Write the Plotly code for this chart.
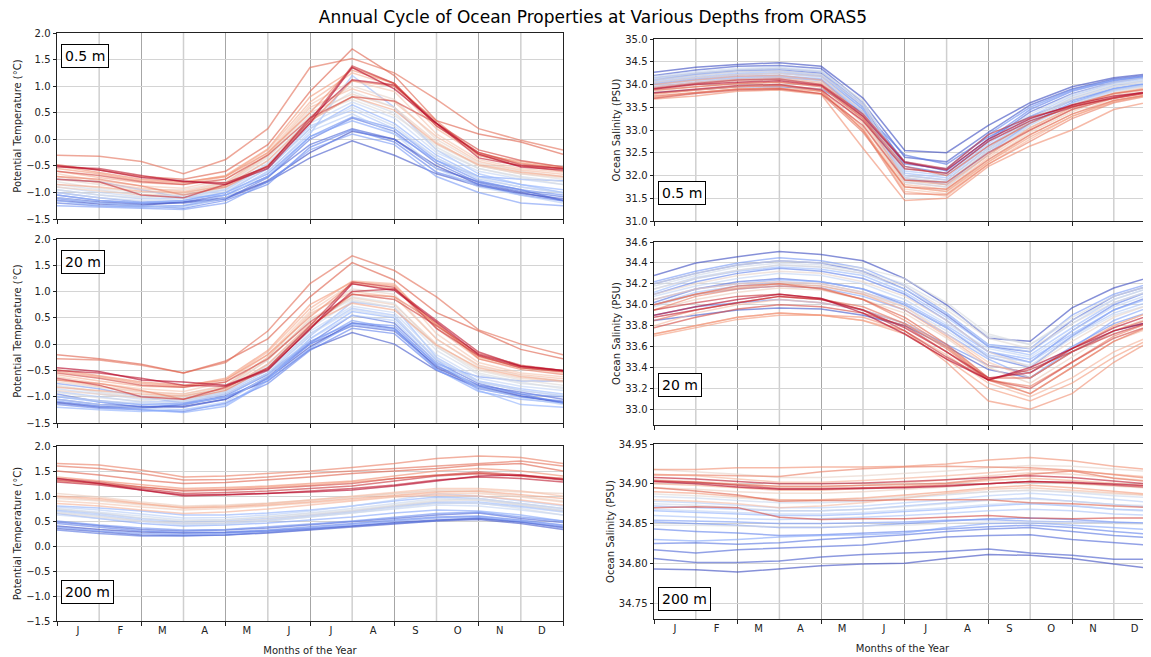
import plotly.graph_objects as go

# ---------------- data ----------------
months = ["J", "F", "M", "A", "M", "J", "J", "A", "S", "O", "N", "D"]
month_pos = [0.5, 1.5, 2.5, 3.5, 4.5, 5.5, 6.5, 7.5, 8.5, 9.5, 10.5, 11.5]
sample_x = [0, 1, 2, 3, 4, 5, 6, 7, 8, 9, 10, 11, 12]

# Potential temperature, 0.5 m (lines ordered oldest/blue -> newest/red)
temp_05m = [
    [-1.15, -1.22, -1.24, -1.18, -1.10, -0.78, -0.25, 0.15, 0.00, -0.50, -0.85, -1.00, -1.15],
    [-1.10, -1.18, -1.22, -1.20, -1.12, -0.80, -0.35, -0.03, -0.30, -0.65, -0.88, -1.02, -1.12],
    [-1.05, -1.15, -1.20, -1.18, -1.05, -0.70, -0.10, 0.20, 0.00, -0.55, -0.80, -0.95, -1.15],
    [-1.20, -1.25, -1.27, -1.25, -1.12, -0.72, 0.00, 0.40, 0.15, -0.45, -0.82, -0.98, -1.08],
    [-1.12, -1.20, -1.25, -1.30, -1.15, -0.85, -0.15, 0.18, -0.05, -0.62, -0.85, -1.05, -1.16],
    [-1.00, -1.10, -1.18, -1.15, -1.00, -0.65, 0.05, 0.42, 0.20, -0.40, -0.78, -0.95, -1.05],
    [-1.25, -1.28, -1.30, -1.32, -1.20, -0.80, -0.20, 0.10, -0.10, -0.70, -1.00, -1.20, -1.25],
    [-0.75, -0.80, -0.95, -1.10, -1.05, -0.70, 0.05, 0.35, 0.10, -0.40, -0.70, -0.75, -0.78],
    [-1.05, -1.15, -1.20, -1.15, -1.00, -0.55, 0.20, 0.65, 0.30, -0.30, -0.70, -0.85, -0.95],
    [-1.15, -1.25, -1.28, -1.25, -1.05, -0.60, 0.10, 1.20, 0.60, -0.20, -0.65, -0.85, -1.00],
    [-0.95, -1.05, -1.12, -1.10, -0.95, -0.50, 0.25, 0.55, 0.20, -0.35, -0.75, -0.90, -1.00],
    [-1.10, -1.20, -1.25, -1.28, -1.10, -0.62, 0.15, 0.48, 0.10, -0.55, -0.90, -1.05, -1.20],
    [-0.90, -1.00, -1.08, -1.05, -0.95, -0.45, 0.30, 0.70, 0.40, -0.25, -0.60, -0.75, -0.85],
    [-1.00, -1.10, -1.15, -1.12, -0.98, -0.55, 0.20, 0.60, 0.25, -0.35, -0.72, -0.90, -1.02],
    [-0.85, -0.95, -1.05, -1.10, -0.92, -0.48, 0.35, 0.80, 0.50, -0.20, -0.55, -0.70, -0.80],
    [-0.95, -1.05, -1.10, -1.05, -0.90, -0.40, 0.40, 0.90, 0.60, -0.15, -0.55, -0.72, -0.85],
    [-0.80, -0.92, -1.00, -1.00, -0.85, -0.35, 0.45, 0.75, 0.45, -0.10, -0.50, -0.65, -0.75],
    [-0.75, -0.85, -0.95, -0.95, -0.80, -0.30, 0.55, 1.00, 0.75, 0.00, -0.45, -0.60, -0.70],
    [-0.90, -0.98, -1.05, -1.02, -0.85, -0.32, 0.50, 0.85, 0.60, -0.05, -0.50, -0.65, -0.72],
    [-0.65, -0.78, -0.88, -0.92, -0.75, -0.25, 0.65, 1.10, 0.90, 0.10, -0.38, -0.55, -0.62],
    [-0.70, -0.82, -0.92, -0.98, -0.82, -0.28, 0.60, 0.95, 0.70, 0.05, -0.42, -0.58, -0.66],
    [-0.60, -0.72, -0.82, -0.85, -0.70, -0.20, 0.70, 1.25, 1.00, 0.20, -0.30, -0.45, -0.55],
    [-0.85, -0.90, -0.98, -1.00, -0.88, -0.40, 0.35, 0.80, 0.55, -0.08, -0.48, -0.62, -0.70],
    [-0.55, -0.65, -0.78, -0.82, -0.68, -0.18, 0.80, 1.30, 1.05, 0.25, -0.28, -0.42, -0.52],
    [-0.50, -0.62, -0.75, -0.80, -0.70, -0.25, 0.50, 1.35, 1.05, 0.30, -0.25, -0.45, -0.55],
    [-0.70, -0.75, -0.88, -1.05, -0.90, -0.50, 0.30, 1.10, 1.00, 0.35, -0.30, -0.50, -0.60],
    [-0.30, -0.32, -0.42, -0.65, -0.38, 0.20, 1.35, 1.52, 1.25, 0.75, 0.20, -0.02, -0.20],
    [-0.48, -0.58, -0.70, -0.75, -0.60, -0.10, 0.90, 1.70, 1.20, 0.35, 0.10, -0.05, -0.28],
    [-0.60, -0.68, -0.80, -0.85, -0.75, -0.30, 0.40, 0.80, 0.72, 0.30, -0.20, -0.40, -0.52],
    [-0.75, -0.80, -1.05, -1.10, -0.85, -0.50, 0.35, 1.38, 1.05, 0.25, -0.25, -0.48, -0.55],
    [-0.52, -0.55, -0.68, -0.80, -0.82, -0.52, 0.40, 1.12, 1.02, 0.30, -0.35, -0.50, -0.55],
    [-0.50, -0.58, -0.72, -0.78, -0.85, -0.55, 0.30, 1.35, 0.95, 0.30, -0.28, -0.52, -0.58],
]

# Potential temperature, 20 m
temp_20m = [
    [-1.10, -1.18, -1.20, -1.18, -1.05, -0.65, -0.05, 0.40, 0.30, -0.45, -0.80, -0.98, -1.12],
    [-1.12, -1.20, -1.22, -1.15, -1.00, -0.70, -0.10, 0.22, 0.00, -0.50, -0.82, -1.00, -1.10],
    [-1.05, -1.15, -1.18, -1.20, -1.05, -0.62, 0.00, 0.35, 0.25, -0.42, -0.78, -0.92, -1.05],
    [-0.95, -1.10, -1.20, -1.15, -0.98, -0.58, 0.02, 0.55, 0.40, -0.35, -0.75, -0.95, -1.12],
    [-1.15, -1.22, -1.25, -1.28, -1.12, -0.75, -0.12, 0.30, 0.20, -0.48, -0.85, -1.00, -1.08],
    [-1.00, -1.08, -1.15, -1.12, -0.95, -0.55, 0.05, 0.40, 0.35, -0.40, -0.80, -0.95, -1.00],
    [-0.75, -0.85, -1.00, -1.12, -1.02, -0.65, 0.00, 0.45, 0.30, -0.38, -0.62, -0.70, -0.70],
    [-1.08, -1.18, -1.25, -1.30, -1.18, -0.70, -0.08, 0.38, 0.28, -0.48, -0.90, -1.05, -1.12],
    [-1.20, -1.25, -1.28, -1.25, -1.15, -0.68, 0.10, 0.62, 0.50, -0.30, -0.88, -1.15, -1.20],
    [-1.00, -1.10, -1.15, -1.15, -1.00, -0.55, 0.15, 0.80, 0.70, -0.25, -0.70, -0.85, -0.95],
    [-0.90, -1.00, -1.10, -1.08, -0.92, -0.50, 0.20, 0.68, 0.55, -0.30, -0.72, -0.88, -0.98],
    [-1.05, -1.15, -1.22, -1.25, -1.10, -0.60, 0.10, 0.55, 0.45, -0.35, -0.82, -1.02, -1.15],
    [-0.85, -0.95, -1.05, -1.05, -0.90, -0.45, 0.25, 0.72, 0.60, -0.20, -0.65, -0.80, -0.88],
    [-0.98, -1.08, -1.12, -1.10, -0.95, -0.55, 0.18, 0.65, 0.52, -0.28, -0.72, -0.88, -0.98],
    [-0.80, -0.92, -1.02, -1.08, -0.90, -0.40, 0.30, 0.82, 0.70, -0.12, -0.58, -0.75, -0.82],
    [-0.92, -1.02, -1.08, -1.02, -0.88, -0.38, 0.35, 0.90, 0.78, -0.05, -0.55, -0.72, -0.85],
    [-0.78, -0.90, -0.98, -0.98, -0.82, -0.30, 0.45, 0.85, 0.70, -0.05, -0.50, -0.68, -0.78],
    [-0.72, -0.82, -0.92, -0.95, -0.78, -0.25, 0.55, 1.05, 0.95, 0.10, -0.42, -0.60, -0.70],
    [-0.88, -0.95, -1.02, -1.00, -0.85, -0.30, 0.48, 0.88, 0.75, 0.00, -0.48, -0.65, -0.72],
    [-0.62, -0.75, -0.85, -0.90, -0.72, -0.20, 0.62, 1.15, 1.10, 0.20, -0.35, -0.55, -0.62],
    [-0.68, -0.80, -0.90, -0.95, -0.80, -0.25, 0.58, 1.00, 0.90, 0.10, -0.40, -0.58, -0.66],
    [-0.58, -0.70, -0.80, -0.82, -0.68, -0.15, 0.68, 1.20, 1.15, 0.30, -0.28, -0.45, -0.55],
    [-0.82, -0.88, -0.95, -0.98, -0.85, -0.38, 0.38, 0.78, 0.65, -0.02, -0.45, -0.62, -0.70],
    [-0.52, -0.62, -0.75, -0.80, -0.65, -0.12, 0.75, 1.18, 1.12, 0.35, -0.25, -0.42, -0.52],
    [-0.48, -0.60, -0.72, -0.78, -0.68, -0.20, 0.52, 1.15, 1.05, 0.38, -0.22, -0.45, -0.52],
    [-0.68, -0.75, -0.88, -1.05, -0.88, -0.45, 0.32, 0.95, 0.90, 0.40, -0.28, -0.48, -0.58],
    [-0.28, -0.30, -0.40, -0.55, -0.35, 0.25, 1.15, 1.68, 1.40, 0.90, 0.27, 0.00, -0.20],
    [-0.20, -0.28, -0.38, -0.55, -0.32, 0.10, 0.90, 1.55, 1.22, 0.60, 0.25, -0.10, -0.28],
    [-0.55, -0.65, -0.78, -0.82, -0.72, -0.28, 0.42, 0.95, 0.85, 0.35, -0.18, -0.40, -0.50],
    [-0.65, -0.78, -1.00, -1.05, -0.82, -0.45, 0.35, 1.18, 1.08, 0.30, -0.22, -0.45, -0.52],
    [-0.50, -0.55, -0.65, -0.78, -0.80, -0.50, 0.30, 1.00, 1.05, 0.45, -0.15, -0.42, -0.50],
    [-0.45, -0.52, -0.68, -0.72, -0.78, -0.48, 0.28, 1.15, 1.02, 0.42, -0.20, -0.42, -0.50],
]

# Potential temperature, 200 m
temp_200m = [
    [0.40, 0.33, 0.28, 0.26, 0.27, 0.30, 0.35, 0.40, 0.47, 0.52, 0.55, 0.48, 0.38],
    [0.35, 0.28, 0.22, 0.21, 0.22, 0.26, 0.32, 0.38, 0.44, 0.50, 0.53, 0.45, 0.33],
    [0.48, 0.40, 0.33, 0.30, 0.32, 0.36, 0.42, 0.48, 0.55, 0.62, 0.66, 0.55, 0.47],
    [0.32, 0.25, 0.20, 0.20, 0.22, 0.27, 0.33, 0.40, 0.46, 0.51, 0.56, 0.48, 0.36],
    [0.45, 0.38, 0.30, 0.27, 0.28, 0.32, 0.38, 0.45, 0.52, 0.58, 0.60, 0.52, 0.42],
    [0.50, 0.42, 0.36, 0.32, 0.33, 0.38, 0.44, 0.50, 0.58, 0.65, 0.68, 0.58, 0.50],
    [0.38, 0.30, 0.25, 0.23, 0.25, 0.30, 0.36, 0.43, 0.50, 0.56, 0.58, 0.50, 0.40],
    [0.65, 0.55, 0.45, 0.40, 0.42, 0.46, 0.52, 0.58, 0.66, 0.72, 0.70, 0.62, 0.50],
    [0.80, 0.76, 0.70, 0.62, 0.62, 0.66, 0.72, 0.80, 0.90, 0.98, 0.95, 0.85, 0.75],
    [0.72, 0.65, 0.55, 0.48, 0.50, 0.55, 0.62, 0.70, 0.80, 0.88, 0.88, 0.80, 0.70],
    [0.70, 0.62, 0.52, 0.45, 0.46, 0.52, 0.60, 0.68, 0.78, 0.86, 0.85, 0.78, 0.68],
    [0.78, 0.72, 0.64, 0.56, 0.57, 0.62, 0.70, 0.80, 0.92, 1.05, 1.00, 0.90, 0.80],
    [0.62, 0.55, 0.48, 0.42, 0.44, 0.50, 0.58, 0.66, 0.75, 0.82, 0.80, 0.72, 0.62],
    [0.75, 0.68, 0.60, 0.52, 0.53, 0.58, 0.66, 0.75, 0.85, 0.95, 0.92, 0.83, 0.72],
    [0.68, 0.60, 0.50, 0.44, 0.45, 0.50, 0.58, 0.66, 0.76, 0.85, 0.86, 0.75, 0.62],
    [0.74, 0.66, 0.56, 0.50, 0.52, 0.58, 0.65, 0.72, 0.82, 0.92, 0.95, 0.85, 0.75],
    [0.66, 0.58, 0.50, 0.46, 0.48, 0.54, 0.62, 0.70, 0.80, 0.90, 0.92, 0.82, 0.70],
    [0.95, 0.90, 0.82, 0.76, 0.78, 0.84, 0.90, 0.97, 1.05, 1.10, 1.08, 1.00, 0.90],
    [1.05, 0.98, 0.88, 0.80, 0.82, 0.86, 0.92, 0.98, 1.05, 1.12, 1.12, 1.08, 1.05],
    [0.90, 0.85, 0.78, 0.72, 0.75, 0.80, 0.86, 0.92, 1.00, 1.05, 1.05, 0.98, 0.88],
    [0.98, 0.92, 0.84, 0.78, 0.80, 0.85, 0.92, 1.00, 1.08, 1.15, 1.15, 1.10, 1.00],
    [0.85, 0.80, 0.72, 0.65, 0.68, 0.74, 0.82, 0.90, 0.98, 1.02, 1.00, 0.92, 0.82],
    [1.00, 0.95, 0.85, 0.76, 0.78, 0.82, 0.88, 0.95, 1.02, 1.08, 1.10, 1.02, 0.95],
    [1.30, 1.25, 1.18, 1.12, 1.14, 1.18, 1.22, 1.28, 1.35, 1.42, 1.45, 1.40, 1.35],
    [1.38, 1.30, 1.22, 1.15, 1.17, 1.20, 1.25, 1.30, 1.40, 1.50, 1.55, 1.50, 1.40],
    [1.65, 1.62, 1.52, 1.38, 1.40, 1.45, 1.50, 1.57, 1.65, 1.75, 1.80, 1.77, 1.65],
    [1.60, 1.55, 1.45, 1.32, 1.33, 1.38, 1.45, 1.50, 1.55, 1.60, 1.65, 1.70, 1.60],
    [1.50, 1.42, 1.32, 1.25, 1.27, 1.32, 1.38, 1.45, 1.50, 1.55, 1.62, 1.65, 1.50],
    [1.35, 1.28, 1.18, 1.10, 1.12, 1.15, 1.20, 1.25, 1.35, 1.42, 1.48, 1.42, 1.35],
    [1.32, 1.25, 1.15, 1.05, 1.07, 1.10, 1.15, 1.20, 1.30, 1.40, 1.45, 1.40, 1.32],
    [1.28, 1.22, 1.12, 1.00, 1.02, 1.05, 1.10, 1.15, 1.22, 1.32, 1.38, 1.35, 1.28],
    [1.35, 1.25, 1.12, 1.02, 1.03, 1.05, 1.08, 1.12, 1.20, 1.30, 1.40, 1.42, 1.33],
]

# Ocean salinity, 0.5 m
sal_05m = [
    [34.27, 34.38, 34.44, 34.48, 34.40, 33.70, 32.55, 32.50, 33.10, 33.60, 33.95, 34.15, 34.25],
    [34.20, 34.32, 34.40, 34.42, 34.35, 33.60, 32.40, 32.30, 32.95, 33.55, 33.90, 34.12, 34.22],
    [34.10, 34.22, 34.30, 34.32, 34.25, 33.50, 32.20, 32.05, 32.75, 33.40, 33.80, 34.05, 34.18],
    [33.82, 33.88, 33.95, 33.95, 33.90, 33.40, 32.45, 32.25, 32.85, 33.30, 33.65, 33.90, 34.05],
    [34.05, 34.15, 34.22, 34.25, 34.18, 33.45, 32.30, 32.10, 32.80, 33.45, 33.85, 34.08, 34.20],
    [34.15, 34.25, 34.32, 34.35, 34.28, 33.55, 32.25, 32.15, 32.90, 33.50, 33.88, 34.10, 34.20],
    [33.95, 34.05, 34.12, 34.15, 34.10, 33.35, 32.00, 31.90, 32.60, 33.20, 33.65, 33.92, 34.05],
    [34.02, 34.12, 34.18, 34.20, 34.12, 33.40, 31.95, 31.80, 32.55, 33.15, 33.60, 33.88, 34.02],
    [34.00, 34.10, 34.15, 34.18, 34.10, 33.30, 31.90, 31.85, 32.50, 33.15, 33.60, 33.90, 34.05],
    [34.08, 34.18, 34.25, 34.28, 34.20, 33.45, 32.05, 31.95, 32.65, 33.25, 33.70, 33.98, 34.12],
    [34.12, 34.22, 34.28, 34.30, 34.22, 33.50, 32.10, 32.00, 32.70, 33.30, 33.75, 34.02, 34.15],
    [33.98, 34.08, 34.15, 34.18, 34.08, 33.30, 31.85, 31.75, 32.45, 33.10, 33.55, 33.85, 34.00],
    [34.05, 34.15, 34.22, 34.25, 34.15, 33.38, 31.95, 31.85, 32.55, 33.20, 33.65, 33.95, 34.08],
    [34.18, 34.28, 34.35, 34.38, 34.30, 33.60, 32.15, 32.05, 32.75, 33.35, 33.78, 34.05, 34.18],
    [33.92, 34.02, 34.10, 34.12, 34.05, 33.28, 31.88, 31.80, 32.48, 33.12, 33.58, 33.88, 34.02],
    [34.15, 34.25, 34.32, 34.35, 34.28, 33.65, 32.00, 31.90, 32.60, 33.25, 33.72, 34.00, 34.12],
    [34.10, 34.20, 34.28, 34.30, 34.22, 33.55, 31.95, 31.85, 32.55, 33.20, 33.68, 33.95, 34.10],
    [34.05, 34.15, 34.22, 34.25, 34.18, 33.40, 31.85, 31.75, 32.45, 33.05, 33.50, 33.82, 33.98],
    [33.90, 34.00, 34.08, 34.10, 34.02, 33.20, 31.75, 31.65, 32.35, 32.95, 33.40, 33.75, 33.92],
    [33.85, 33.95, 34.02, 34.05, 33.98, 33.15, 31.70, 31.60, 32.30, 32.90, 33.35, 33.70, 33.88],
    [33.95, 34.05, 34.12, 34.15, 34.05, 33.25, 31.80, 31.70, 32.40, 33.00, 33.45, 33.78, 33.95],
    [33.78, 33.88, 33.95, 33.98, 33.90, 33.05, 31.65, 31.55, 32.25, 32.80, 33.30, 33.65, 33.82],
    [34.00, 34.10, 34.18, 34.20, 34.10, 33.30, 31.90, 31.80, 32.45, 33.05, 33.50, 33.80, 33.95],
    [33.72, 33.82, 33.90, 33.92, 33.85, 33.00, 31.75, 31.65, 32.30, 32.85, 33.30, 33.62, 33.80],
    [33.68, 33.75, 33.85, 33.88, 33.78, 32.60, 31.45, 31.50, 32.20, 32.65, 33.00, 33.45, 33.65],
    [33.80, 33.88, 33.95, 33.98, 33.85, 33.00, 31.60, 31.58, 32.25, 32.75, 33.25, 33.60, 33.78],
    [33.75, 33.82, 33.90, 33.92, 33.80, 32.95, 31.75, 31.70, 32.35, 32.90, 33.35, 33.65, 33.80],
    [33.88, 33.95, 34.02, 34.05, 33.95, 33.25, 32.20, 32.00, 32.65, 33.15, 33.55, 33.80, 33.92],
    [33.70, 33.80, 33.88, 33.90, 33.80, 33.10, 31.90, 31.85, 32.50, 33.00, 33.45, 33.70, 33.85],
    [33.92, 34.02, 34.10, 34.12, 34.00, 33.35, 32.30, 32.15, 32.90, 33.28, 33.52, 33.70, 33.85],
    [33.82, 33.90, 33.98, 34.00, 33.88, 33.20, 32.15, 32.05, 32.75, 33.20, 33.50, 33.72, 33.88],
    [33.90, 34.00, 34.05, 34.08, 33.98, 33.30, 32.28, 32.12, 32.80, 33.25, 33.55, 33.75, 33.85],
]

# Ocean salinity, 20 m
sal_20m = [
    [34.28, 34.40, 34.46, 34.51, 34.48, 34.42, 34.25, 34.00, 33.68, 33.65, 33.97, 34.16, 34.28],
    [33.85, 33.90, 33.95, 33.97, 33.96, 33.90, 33.80, 33.60, 33.38, 33.30, 33.55, 33.75, 33.85],
    [34.20, 34.30, 34.38, 34.42, 34.40, 34.32, 34.15, 33.90, 33.60, 33.55, 33.85, 34.08, 34.20],
    [34.02, 34.15, 34.22, 34.25, 34.22, 34.15, 34.00, 33.78, 33.50, 33.40, 33.70, 33.95, 34.10],
    [34.10, 34.22, 34.30, 34.35, 34.32, 34.25, 34.10, 33.85, 33.55, 33.45, 33.75, 34.00, 34.15],
    [33.90, 33.98, 34.02, 34.05, 34.02, 33.95, 33.82, 33.62, 33.42, 33.35, 33.60, 33.82, 33.95],
    [34.22, 34.32, 34.40, 34.45, 34.42, 34.35, 34.18, 33.92, 33.62, 33.58, 33.90, 34.10, 34.22],
    [34.00, 34.10, 34.15, 34.18, 34.16, 34.08, 33.95, 33.72, 33.48, 33.30, 33.58, 33.85, 34.00],
    [34.05, 34.15, 34.20, 34.24, 34.22, 34.15, 34.02, 33.80, 33.55, 33.48, 33.72, 33.95, 34.08],
    [34.12, 34.25, 34.32, 34.36, 34.34, 34.28, 34.12, 33.88, 33.60, 33.52, 33.78, 34.02, 34.15],
    [34.00, 34.12, 34.18, 34.22, 34.20, 34.12, 34.00, 33.78, 33.52, 33.45, 33.70, 33.92, 34.05],
    [34.15, 34.26, 34.33, 34.38, 34.36, 34.30, 34.15, 33.92, 33.62, 33.55, 33.82, 34.05, 34.18],
    [34.08, 34.18, 34.25, 34.30, 34.28, 34.20, 34.05, 33.82, 33.58, 33.50, 33.75, 33.98, 34.12],
    [33.98, 34.10, 34.16, 34.20, 34.18, 34.10, 33.98, 33.75, 33.50, 33.42, 33.68, 33.90, 34.02],
    [34.18, 34.28, 34.36, 34.40, 34.38, 34.32, 34.20, 33.98, 33.70, 33.62, 33.85, 34.05, 34.18],
    [34.20, 34.30, 34.38, 34.42, 34.40, 34.35, 34.25, 34.02, 33.72, 33.62, 33.88, 34.08, 34.20],
    [34.15, 34.25, 34.33, 34.38, 34.36, 34.30, 34.18, 33.95, 33.68, 33.58, 33.82, 34.02, 34.15],
    [34.10, 34.20, 34.28, 34.32, 34.30, 34.22, 34.08, 33.85, 33.55, 33.40, 33.65, 33.88, 34.02],
    [33.95, 34.05, 34.12, 34.16, 34.14, 34.05, 33.92, 33.68, 33.40, 33.25, 33.50, 33.75, 33.90],
    [34.05, 34.15, 34.20, 34.22, 34.20, 34.12, 33.98, 33.72, 33.45, 33.30, 33.55, 33.80, 33.95],
    [33.80, 33.92, 34.00, 34.05, 34.02, 33.95, 33.82, 33.60, 33.30, 33.15, 33.40, 33.65, 33.80],
    [33.72, 33.80, 33.88, 33.92, 33.90, 33.85, 33.75, 33.52, 33.25, 33.12, 33.30, 33.55, 33.72],
    [34.00, 34.10, 34.16, 34.20, 34.18, 34.10, 33.95, 33.70, 33.42, 33.35, 33.58, 33.80, 33.95],
    [33.70, 33.78, 33.86, 33.90, 33.90, 33.85, 33.72, 33.48, 33.20, 33.08, 33.25, 33.50, 33.70],
    [33.72, 33.80, 33.88, 33.92, 33.90, 33.88, 33.75, 33.45, 33.08, 33.00, 33.15, 33.45, 33.68],
    [33.95, 34.08, 34.15, 34.18, 34.16, 34.05, 33.85, 33.60, 33.28, 33.22, 33.45, 33.70, 33.85],
    [33.85, 33.95, 34.02, 34.08, 34.05, 33.98, 33.82, 33.58, 33.28, 33.15, 33.40, 33.65, 33.82],
    [34.00, 34.10, 34.18, 34.20, 34.15, 34.05, 33.88, 33.62, 33.30, 33.30, 33.55, 33.75, 33.88],
    [33.78, 33.88, 33.96, 34.00, 33.98, 33.92, 33.80, 33.55, 33.28, 33.20, 33.45, 33.68, 33.82],
    [33.95, 34.02, 34.08, 34.10, 34.06, 33.95, 33.75, 33.50, 33.28, 33.38, 33.55, 33.72, 33.85],
    [33.88, 33.95, 34.02, 34.08, 34.05, 33.95, 33.78, 33.55, 33.30, 33.35, 33.58, 33.78, 33.92],
    [33.90, 33.98, 34.05, 34.10, 34.06, 33.92, 33.72, 33.48, 33.28, 33.40, 33.58, 33.75, 33.85],
]

# Ocean salinity, 200 m
sal_200m = [
    [34.793, 34.792, 34.789, 34.793, 34.797, 34.799, 34.800, 34.806, 34.811, 34.810, 34.806, 34.799, 34.793],
    [34.806, 34.801, 34.801, 34.803, 34.808, 34.811, 34.813, 34.815, 34.818, 34.813, 34.810, 34.805, 34.805],
    [34.817, 34.813, 34.817, 34.819, 34.821, 34.823, 34.828, 34.833, 34.835, 34.836, 34.830, 34.826, 34.822],
    [34.825, 34.826, 34.824, 34.826, 34.830, 34.833, 34.836, 34.840, 34.843, 34.845, 34.840, 34.835, 34.832],
    [34.843, 34.840, 34.838, 34.835, 34.836, 34.838, 34.840, 34.843, 34.846, 34.848, 34.845, 34.840, 34.836],
    [34.852, 34.850, 34.848, 34.845, 34.845, 34.847, 34.850, 34.853, 34.856, 34.857, 34.855, 34.852, 34.850],
    [34.854, 34.853, 34.852, 34.850, 34.850, 34.851, 34.852, 34.854, 34.855, 34.853, 34.852, 34.851, 34.850],
    [34.830, 34.828, 34.830, 34.833, 34.835, 34.836, 34.838, 34.845, 34.850, 34.851, 34.848, 34.845, 34.842],
    [34.866, 34.864, 34.862, 34.860, 34.860, 34.862, 34.865, 34.868, 34.872, 34.875, 34.872, 34.868, 34.866],
    [34.872, 34.870, 34.868, 34.866, 34.866, 34.868, 34.872, 34.876, 34.880, 34.882, 34.878, 34.874, 34.870],
    [34.860, 34.858, 34.856, 34.855, 34.856, 34.858, 34.860, 34.863, 34.866, 34.868, 34.866, 34.862, 34.860],
    [34.878, 34.876, 34.873, 34.870, 34.870, 34.872, 34.876, 34.880, 34.885, 34.888, 34.885, 34.880, 34.876],
    [34.868, 34.866, 34.864, 34.862, 34.862, 34.864, 34.867, 34.870, 34.874, 34.876, 34.873, 34.868, 34.865],
    [34.884, 34.882, 34.879, 34.876, 34.876, 34.878, 34.882, 34.886, 34.890, 34.892, 34.889, 34.885, 34.882],
    [34.875, 34.873, 34.870, 34.866, 34.866, 34.868, 34.871, 34.875, 34.879, 34.881, 34.878, 34.874, 34.872],
    [34.848, 34.848, 34.847, 34.846, 34.846, 34.847, 34.848, 34.850, 34.852, 34.852, 34.851, 34.850, 34.849],
    [34.887, 34.885, 34.882, 34.879, 34.879, 34.881, 34.884, 34.887, 34.890, 34.892, 34.890, 34.887, 34.885],
    [34.918, 34.915, 34.912, 34.908, 34.908, 34.910, 34.913, 34.916, 34.920, 34.923, 34.922, 34.918, 34.915],
    [34.895, 34.893, 34.890, 34.888, 34.888, 34.890, 34.893, 34.896, 34.900, 34.903, 34.900, 34.897, 34.894],
    [34.905, 34.903, 34.900, 34.896, 34.896, 34.898, 34.901, 34.905, 34.910, 34.914, 34.912, 34.907, 34.903],
    [34.880, 34.878, 34.875, 34.870, 34.872, 34.876, 34.882, 34.888, 34.893, 34.895, 34.892, 34.888, 34.885],
    [34.912, 34.910, 34.906, 34.902, 34.902, 34.904, 34.907, 34.910, 34.914, 34.918, 34.916, 34.912, 34.908],
    [34.900, 34.898, 34.895, 34.892, 34.892, 34.894, 34.897, 34.900, 34.904, 34.907, 34.904, 34.900, 34.897],
    [34.890, 34.888, 34.884, 34.880, 34.880, 34.882, 34.886, 34.890, 34.895, 34.898, 34.895, 34.890, 34.886],
    [34.918, 34.918, 34.920, 34.920, 34.921, 34.921, 34.922, 34.925, 34.930, 34.933, 34.929, 34.922, 34.917],
    [34.911, 34.911, 34.910, 34.909, 34.915, 34.919, 34.921, 34.922, 34.921, 34.920, 34.917, 34.911, 34.906],
    [34.903, 34.902, 34.899, 34.897, 34.897, 34.898, 34.899, 34.901, 34.906, 34.912, 34.916, 34.907, 34.902],
    [34.895, 34.891, 34.886, 34.878, 34.879, 34.879, 34.880, 34.880, 34.880, 34.876, 34.875, 34.872, 34.870],
    [34.870, 34.871, 34.870, 34.858, 34.855, 34.856, 34.856, 34.858, 34.860, 34.857, 34.856, 34.857, 34.857],
    [34.904, 34.902, 34.898, 34.894, 34.894, 34.895, 34.896, 34.898, 34.900, 34.903, 34.901, 34.898, 34.895],
    [34.908, 34.906, 34.903, 34.900, 34.900, 34.901, 34.903, 34.905, 34.908, 34.910, 34.908, 34.903, 34.899],
    [34.903, 34.900, 34.896, 34.893, 34.893, 34.894, 34.895, 34.897, 34.900, 34.903, 34.902, 34.900, 34.897],
]

depth_labels = ["0.5 m", "20 m", "200 m"]
temp_title = "Potential Temperature (°C)"
sal_title = "Ocean Salinity (PSU)"
x_title = "Months of the Year"
main_title = "Annual Cycle of Ocean Properties at Various Depths from ORAS5"

# ---------------- styling helpers ----------------
# The page body has an 8px default margin, so the figure is sized to the
# visible area and reference pixel positions are shifted by that offset.
OFF = 8
W, H = 1151 - OFF, 657 - OFF
CW = [(0.0, (59, 76, 192)), (0.125, (98, 130, 234)), (0.25, (141, 176, 254)),
      (0.375, (190, 211, 246)), (0.5, (221, 221, 221)), (0.625, (245, 196, 172)),
      (0.75, (244, 154, 123)), (0.875, (221, 96, 77)), (1.0, (180, 4, 38))]


def coolwarm(t, alpha=0.62):
    for (t0, c0), (t1, c1) in zip(CW[:-1], CW[1:]):
        if t <= t1:
            f = (t - t0) / (t1 - t0)
            c = [round(a + (b - a) * f) for a, b in zip(c0, c1)]
            return f"rgba({c[0]},{c[1]},{c[2]},{alpha})"
    return f"rgba(180,4,38,{alpha})"


def px_dom_x(a, b):
    return [(a - OFF) / W, min((b - OFF) / W, 1.0)]


def px_dom_y(top, bottom):
    return [1 - (bottom - OFF) / H, 1 - (top - OFF) / H]


FONT = "DejaVu Sans, Verdana, sans-serif"
AX = "#222222"

# panel geometry (reference pixels): left/right x, top/bottom y
LEFT_X = (57, 563)
RIGHT_X = (654, 1151)
RIGHT_RANGE_END = 12 * (1151 - 654) / (1155.6 - 654)

panels = [
    dict(data=temp_05m, col=0, y=(33, 219), yr=[-1.5, 2.0], dt=0.5, fmt=".1f", yt=temp_title,
         depth=depth_labels[0], box=0.874),
    dict(data=sal_05m, col=1, y=(39, 221), yr=[31.0, 35.0], dt=0.5, fmt=".1f", yt=sal_title,
         depth=depth_labels[0], box=0.152),
    dict(data=temp_20m, col=0, y=(239, 423), yr=[-1.5, 2.0], dt=0.5, fmt=".1f", yt=temp_title,
         depth=depth_labels[1], box=0.877),
    dict(data=sal_20m, col=1, y=(242, 425), yr=[32.85, 34.6], dt=0.2, fmt=".1f", yt=sal_title,
         depth=depth_labels[1], box=0.221, t0=33.0),
    dict(data=temp_200m, col=0, y=(446, 621), yr=[-1.5, 2.0], dt=0.5, fmt=".1f", yt=temp_title,
         depth=depth_labels[2], box=0.166),
    dict(data=sal_200m, col=1, y=(444, 619), yr=[34.73, 34.95], dt=0.05, fmt=".2f", yt=sal_title,
         depth=depth_labels[2], box=0.114, t0=34.75),
]

fig = go.Figure()
layout = {}
shapes = []
annotations = []

for i, p in enumerate(panels):
    n = i + 1
    xa = "x" if n == 1 else f"x{n}"
    ya = "y" if n == 1 else f"y{n}"
    xkey = "xaxis" if n == 1 else f"xaxis{n}"
    ykey = "yaxis" if n == 1 else f"yaxis{n}"
    bottom_row = i >= 4
    xdom = px_dom_x(*(LEFT_X if p["col"] == 0 else RIGHT_X))
    xr = [0, 12] if p["col"] == 0 else [0, RIGHT_RANGE_END]

    lines = p["data"]
    nl = len(lines)
    for k, vals in enumerate(lines):
        fig.add_trace(go.Scatter(
            x=sample_x, y=vals, mode="lines", xaxis=xa, yaxis=ya,
            line=dict(color=coolwarm(k / (nl - 1)), width=1.5),
            showlegend=False, hoverinfo="skip"))

    layout[xkey] = dict(
        domain=xdom, range=xr, anchor=ya, automargin=False,
        tickmode="array", tickvals=month_pos,
        ticktext=months if bottom_row else [""] * 12,
        ticks="", showgrid=False, zeroline=False,
        showline=True, linecolor=AX, linewidth=1, mirror=True,
        tickfont=dict(family=FONT, size=10, color=AX),
        minor=dict(tickmode="array", tickvals=[0, 2, 4, 6, 8, 10, 12], ticks="outside",
                   ticklen=4, tickwidth=1, tickcolor=AX, showgrid=True,
                   gridcolor="#a6a6a6", gridwidth=1),
        title=dict(text=x_title if bottom_row else "", standoff=11,
                   font=dict(family=FONT, size=10, color=AX)),
    )
    layout[ykey] = dict(
        domain=px_dom_y(*p["y"]), range=p["yr"], anchor=xa, automargin=False,
        tick0=p.get("t0", p["yr"][0]), dtick=p["dt"], tickformat=p["fmt"],
        ticks="outside", ticklen=3.5, tickwidth=1, tickcolor=AX,
        showgrid=True, gridcolor="#d4d4d4", gridwidth=1.2, zeroline=False,
        showline=True, linecolor=AX, linewidth=1, mirror=True,
        tickfont=dict(family=FONT, size=10, color=AX),
        title=dict(text=p["yt"], standoff=2, font=dict(family=FONT, size=10, color=AX)),
    )
    for g in [1, 3, 5, 7, 9, 11]:
        shapes.append(dict(type="line", xref=xa, yref=f"{ya} domain", x0=g, x1=g, y0=0, y1=1,
                           line=dict(color="#cfcfcf", width=1.5), layer="below"))
    annotations.append(dict(
        text=p["depth"], xref=f"{xa} domain", yref=f"{ya} domain",
        x=0.008, y=p["box"], xanchor="left", yanchor="middle", showarrow=False,
        font=dict(family=FONT, size=14, color="black"),
        bgcolor="white", bordercolor="black", borderwidth=1, borderpad=3))

fig.update_layout(
    **layout,
    width=W, height=H,
    margin=dict(l=0, r=0, t=0, b=0, autoexpand=False),
    paper_bgcolor="white", plot_bgcolor="white",
    shapes=shapes, annotations=annotations,
    title=dict(text=main_title, x=(593 - OFF) / W, xanchor="center", y=1 - 3 / H,
               yanchor="top", pad=dict(t=0, b=0),
               font=dict(family=FONT, size=17, color="black")),
    font=dict(family=FONT, size=10, color=AX),
)

fig.write_html("out.html")
